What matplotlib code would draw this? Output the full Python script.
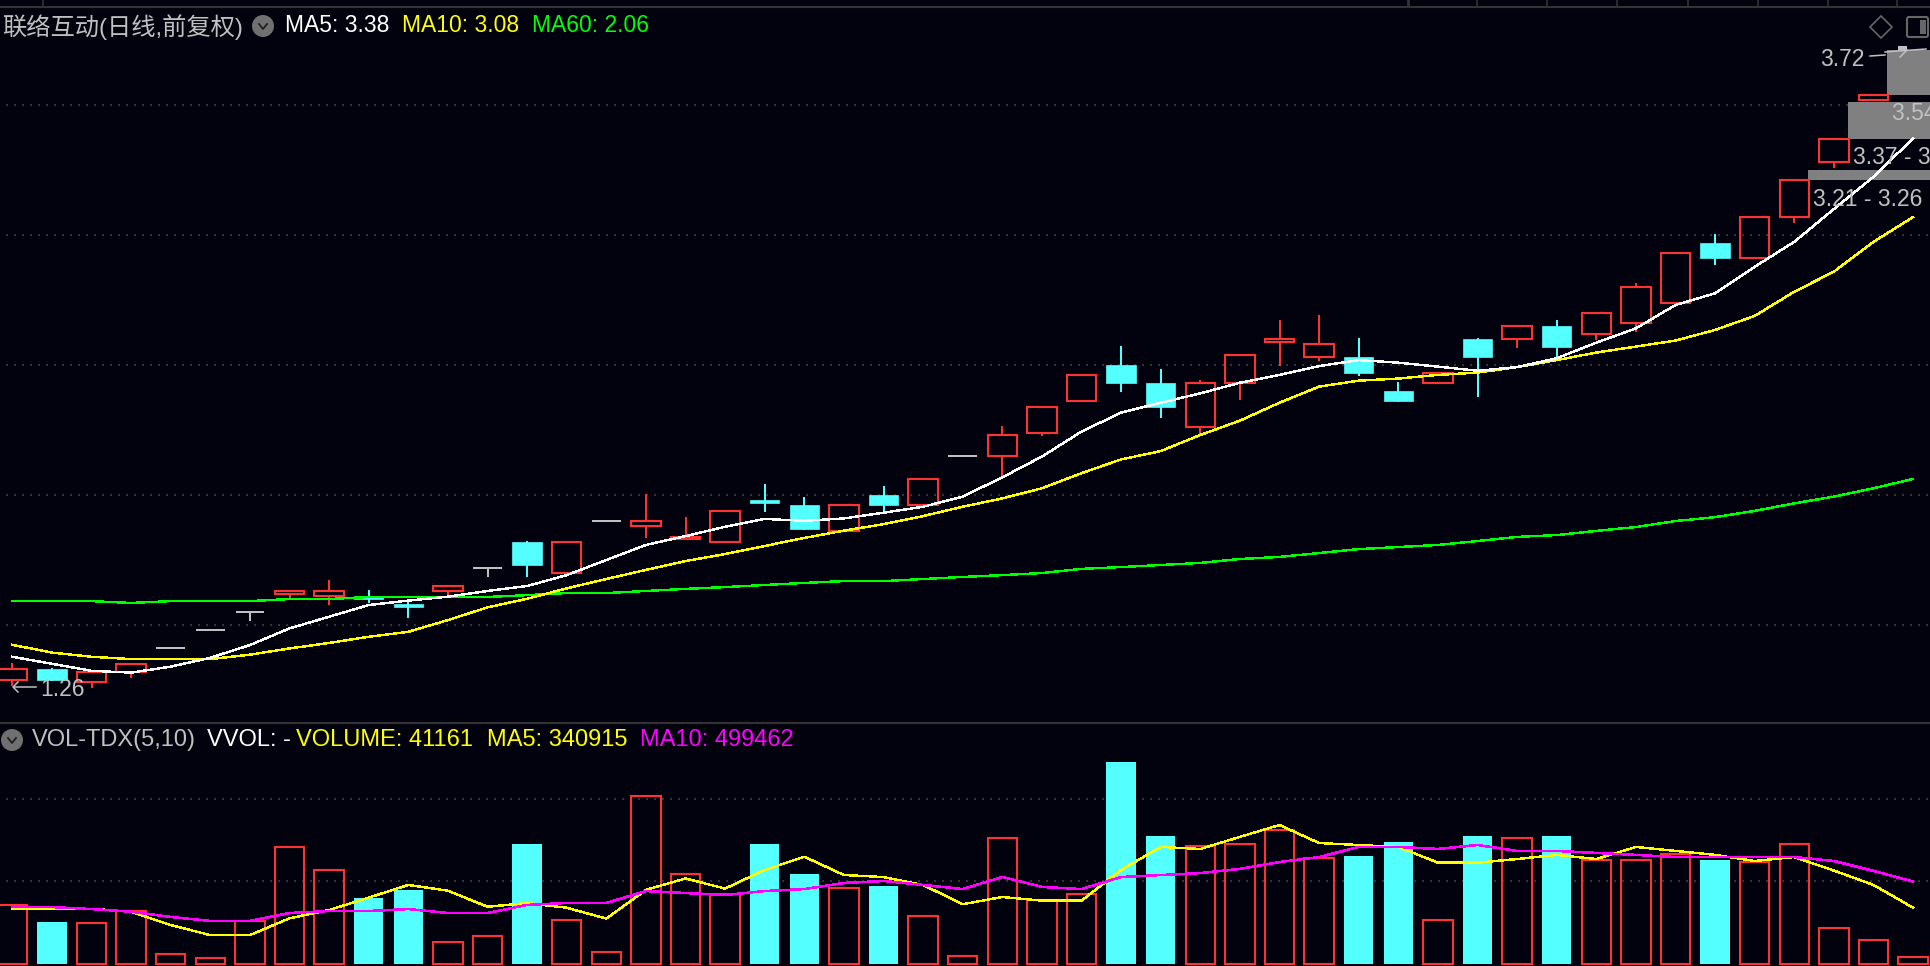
import numpy as np
import matplotlib
matplotlib.use('Agg')
import matplotlib.pyplot as plt
from matplotlib.patches import Rectangle, Circle, Polygon, FancyBboxPatch

plt.rcParams['font.family'] = ['Liberation Sans', 'Noto Sans CJK SC', 'DejaVu Sans']

# daily prices (the last day's candle sits behind the grey zone)
opens = [1.29,1.33,1.28,1.32,1.41,1.48,1.55,1.62,1.61,1.61,1.58,1.63,1.72,1.82,1.70,1.90,
         1.88,1.83,1.82,1.98,1.96,1.86,2.00,1.96,2.15,2.15,2.24,2.36,2.50,2.43,2.26,2.43,
         2.59,2.53,2.53,2.40,2.43,2.60,2.60,2.65,2.62,2.66,2.74,2.97,2.91,3.07,3.28,3.52]
closes = [1.33,1.29,1.32,1.35,1.41,1.48,1.55,1.63,1.63,1.60,1.57,1.65,1.72,1.73,1.82,1.90,
          1.90,1.84,1.94,1.97,1.87,1.96,1.96,2.06,2.15,2.23,2.34,2.46,2.43,2.34,2.43,2.54,
          2.60,2.58,2.47,2.36,2.47,2.53,2.65,2.57,2.70,2.80,2.93,2.91,3.07,3.21,3.37,3.54]
highs = [1.35,1.33,1.32,1.35,1.41,1.48,1.55,1.63,1.67,1.63,1.59,1.65,1.72,1.82,1.82,1.90,
         2.00,1.91,1.94,2.04,1.99,1.96,2.03,2.06,2.15,2.26,2.34,2.46,2.57,2.48,2.44,2.54,
         2.67,2.69,2.60,2.43,2.47,2.60,2.65,2.67,2.70,2.81,2.93,3.00,3.07,3.21,3.37,3.54]
lows = [1.27,1.29,1.26,1.30,1.41,1.48,1.52,1.60,1.58,1.59,1.53,1.62,1.69,1.69,1.70,1.90,
        1.84,1.83,1.82,1.94,1.87,1.86,1.94,1.96,2.15,2.07,2.23,2.36,2.40,2.30,2.23,2.37,
        2.50,2.52,2.46,2.36,2.43,2.38,2.57,2.53,2.60,2.63,2.74,2.89,2.91,3.05,3.26,3.52]

ma5 = [1.378,1.351,1.324,1.317,1.340,1.374,1.423,1.487,1.532,1.577,1.594,1.609,1.631,1.650,1.692,1.750,
       1.808,1.842,1.878,1.908,1.901,1.910,1.932,1.955,1.994,2.068,2.148,2.244,2.317,2.355,2.391,2.432,
       2.462,2.496,2.519,2.509,2.494,2.478,2.492,2.526,2.586,2.641,2.731,2.776,2.878,2.974,3.100,3.224,3.372]
ma10 = [1.424,1.394,1.378,1.369,1.369,1.369,1.386,1.410,1.431,1.455,1.474,1.519,1.568,1.601,1.641,1.677,
        1.712,1.746,1.773,1.804,1.835,1.863,1.888,1.919,1.955,1.987,2.026,2.084,2.137,2.169,2.231,2.286,
        2.355,2.417,2.440,2.448,2.462,2.471,2.492,2.519,2.548,2.571,2.594,2.635,2.689,2.782,2.859,2.974,3.069]
ma60 = [1.592,1.592,1.592,1.585,1.592,1.592,1.592,1.600,1.600,1.608,1.608,1.608,1.608,1.615,1.623,1.623,
        1.631,1.639,1.646,1.654,1.662,1.669,1.669,1.677,1.685,1.692,1.700,1.716,1.723,1.731,1.739,1.754,
        1.762,1.777,1.792,1.800,1.808,1.823,1.839,1.846,1.862,1.877,1.900,1.915,1.939,1.968,1.994,2.026,2.062]

# volume in thousands
volume = [358,255,250,321,59,35,262,709,568,400,448,132,168,727,265,71,
          1016,544,422,727,545,459,473,289,47,762,386,422,1224,776,713,725,
          810,641,654,739,265,776,762,776,628,628,665,630,616,725,216,144,41.161]
vol_ma5 = [335,335,335,317,236,175,175,277,327,402,479,444,347,369,341,275,
           449,518,457,570,650,539,527,479,362,406,384,384,570,709,697,770,
           842,733,721,709,614,614,636,661,636,709,685,661,624,648,566,479,340.915]
vol_ma10 = [345,345,333,317,285,261,261,309,321,321,333,309,309,358,370,370,
            442,430,418,442,454,491,503,479,454,527,467,454,527,539,551,576,
            618,648,709,709,697,721,685,685,673,661,648,648,648,648,624,564,499.462]
# the last volume bars are red, down days are the cyan ones
down_days = [1,9,10,13,19,20,22,28,29,34,35,37,39,43]

# grey zones at the top right: first day, low, high, label
zones = [(47, 3.54, 3.71), (46, 3.37, 3.51), (45, 3.21, 3.25)]
price_grid = [3.5, 3.0, 2.5, 2.0, 1.5]
vol_grid = [500, 1000]
top_ticks = [43, 1408, 1477, 1547, 1617, 1688, 1758, 1828, 1897]

BG = '#02020e'
RED = '#ff3232'
CYAN = '#54ffff'
GREY = '#c0c0c0'
GRID = '#333338'
W, H = 1930, 966
x = np.arange(len(ma5))
xlim = (-12.3 / 39.6, (W - 12.3) / 39.6)

fig = plt.figure(figsize=(W / 100, H / 100), dpi=100, facecolor=BG)
ax = fig.add_axes([0, (H - 723) / H, 1, 723 / H], facecolor=BG)
ax2 = fig.add_axes([0, 0, 1, 243 / H], facecolor=BG)
ov = fig.add_axes([0, 0, 1, 1], facecolor='none', zorder=10)
ov.set_xlim(0, W)
ov.set_ylim(H, 0)
ov.axis('off')

ax.set_xlim(xlim)
ax.set_ylim(3.904 - 723 / 260, 3.904)
ax2.set_xlim(xlim)
ax2.set_ylim(-12, 1460)
for a in (ax, ax2):
    a.axis('off')

# dotted grid
for v in price_grid:
    ax.plot([xlim[0] + 0.15, xlim[1]], [v, v], color=GRID, lw=1.44, ls=(0, (1, 3)), zorder=1, antialiased=False)
for v in vol_grid:
    ax2.plot([xlim[0] + 0.15, xlim[1]], [v, v], color=GRID, lw=1.44, ls=(0, (1, 3)), zorder=1, antialiased=False)

# zones sit under the candles
for start, lo, hi in zones:
    ax.add_patch(Rectangle((start + 0.35, lo), xlim[1] - start, hi - lo, facecolor='#808080', edgecolor='none', zorder=2))

# candles
bw = 0.74
for i, (o, c, h, l) in enumerate(zip(opens, closes, highs, lows)):
    if o == c:
        col = GREY
        ax.plot([i - 0.36, i + 0.36], [o, o], color=col, lw=1.1, zorder=3, antialiased=False, solid_capstyle='butt')
        ax.plot([i, i], [l, h], color=col, lw=1.2, zorder=3, antialiased=False)
    elif c > o:
        ax.plot([i, i], [c, h], color=RED, lw=1.2, zorder=3, antialiased=False)
        ax.plot([i, i], [l, o], color=RED, lw=1.2, zorder=3, antialiased=False)
        ax.bar(i, c - o, bw, bottom=o, facecolor='none', edgecolor=RED, lw=1.5, zorder=3)
    else:
        ax.plot([i, i], [l, h], color=CYAN, lw=1.2, zorder=3, antialiased=False)
        ax.bar(i, o - c, bw, bottom=c, facecolor=CYAN, edgecolor=CYAN, lw=0.5, zorder=3)

ax.plot(x, ma60, color='#00ff00', lw=1.0, zorder=5, antialiased=False)
ax.plot(x, ma10, color='#ffff00', lw=1.0, zorder=5, antialiased=False)
ax.plot(x, ma5, color='#ffffff', lw=1.0, zorder=5, antialiased=False)

# volume bars
for i, v in enumerate(volume):
    if i in down_days:
        ax2.bar(i, v, bw, facecolor=CYAN, edgecolor='none', zorder=3)
    else:
        ax2.bar(i, v, bw, facecolor='none', edgecolor=RED, lw=1.5, zorder=3)
ax2.plot(x, vol_ma5, color='#ffff00', lw=1.0, zorder=5, antialiased=False)
ax2.plot(x, vol_ma10, color='#ff00ff', lw=1.1, zorder=5, antialiased=False)

# frame bits
ov.plot([0, W], [6.5, 6.5], color='#333333', lw=1.5)
ov.plot([0, W], [723, 723], color='#333333', lw=1.5)
for t in top_ticks:
    ov.plot([t, t], [0, 6], color='#333333', lw=1.2 if t != 1408 else 2)


def label(px, py, s, col, size=16.5):
    ov.text(px, py, s, color=col, fontsize=size, ha='left', va='center')


def drop_icon(cx, cy, r=11):
    ov.add_patch(Circle((cx, cy), r, facecolor='#707070', edgecolor='none'))
    ov.plot([cx - 4, cx, cx + 4], [cy - 2, cy + 3, cy - 2], color='#202020', lw=1.3)


label(2, 27, '联络互动(日线,前复权)', GREY, 17.5)
drop_icon(263, 26)
label(285, 26, 'MA5: 3.38', '#ffffff')
label(402, 26, 'MA10: 3.08', '#ffff00')
label(532, 26, 'MA60: 2.06', '#00ff00')

drop_icon(12, 740)
label(32, 740, 'VOL-TDX(5,10)', GREY, 17)
label(207, 740, 'VVOL: -', '#ffffff', 17)
label(296, 740, 'VOLUME: 41161', '#ffff00', 17)
label(487, 740, 'MA5: 340915', '#ffff00', 17)
label(640, 740, 'MA10: 499462', '#ff00ff', 17)

# price notes
label(1820, 59, '3.72', GREY)
label(1892, 113, '3.54 - 3.71', GREY)
label(1853, 157, '3.37 - 3.51', GREY)
label(1813, 199, '3.21 - 3.26', GREY)
label(40, 690, '1.26', GREY)
ov.plot([14, 36], [687, 687], color=GREY, lw=1.1)
ov.plot([18, 13, 18], [682, 687, 692], color=GREY, lw=1.1)
ov.plot([1870, 1885], [56, 55], color=GREY, lw=1.1)
ov.plot([1885, 1926], [52, 49], color=GREY, lw=1.1)
ov.plot([1900, 1907], [57, 50], color=GREY, lw=1.1)
ov.add_patch(Rectangle((1898, 46), 9, 4, facecolor=GREY, edgecolor='none'))

# top right icons
ov.add_patch(Polygon([(1881, 16), (1892, 27), (1881, 38), (1870, 27)], facecolor='none', edgecolor='#666666', lw=1.2))
ov.add_patch(FancyBboxPatch((1909, 19), 17, 16, boxstyle='round,pad=2', facecolor='none', edgecolor='#666666', lw=1.5))
ov.add_patch(Rectangle((1920, 20), 6, 14, facecolor='#666666', edgecolor='none'))

fig.savefig('out.png', dpi=100, facecolor=BG)
